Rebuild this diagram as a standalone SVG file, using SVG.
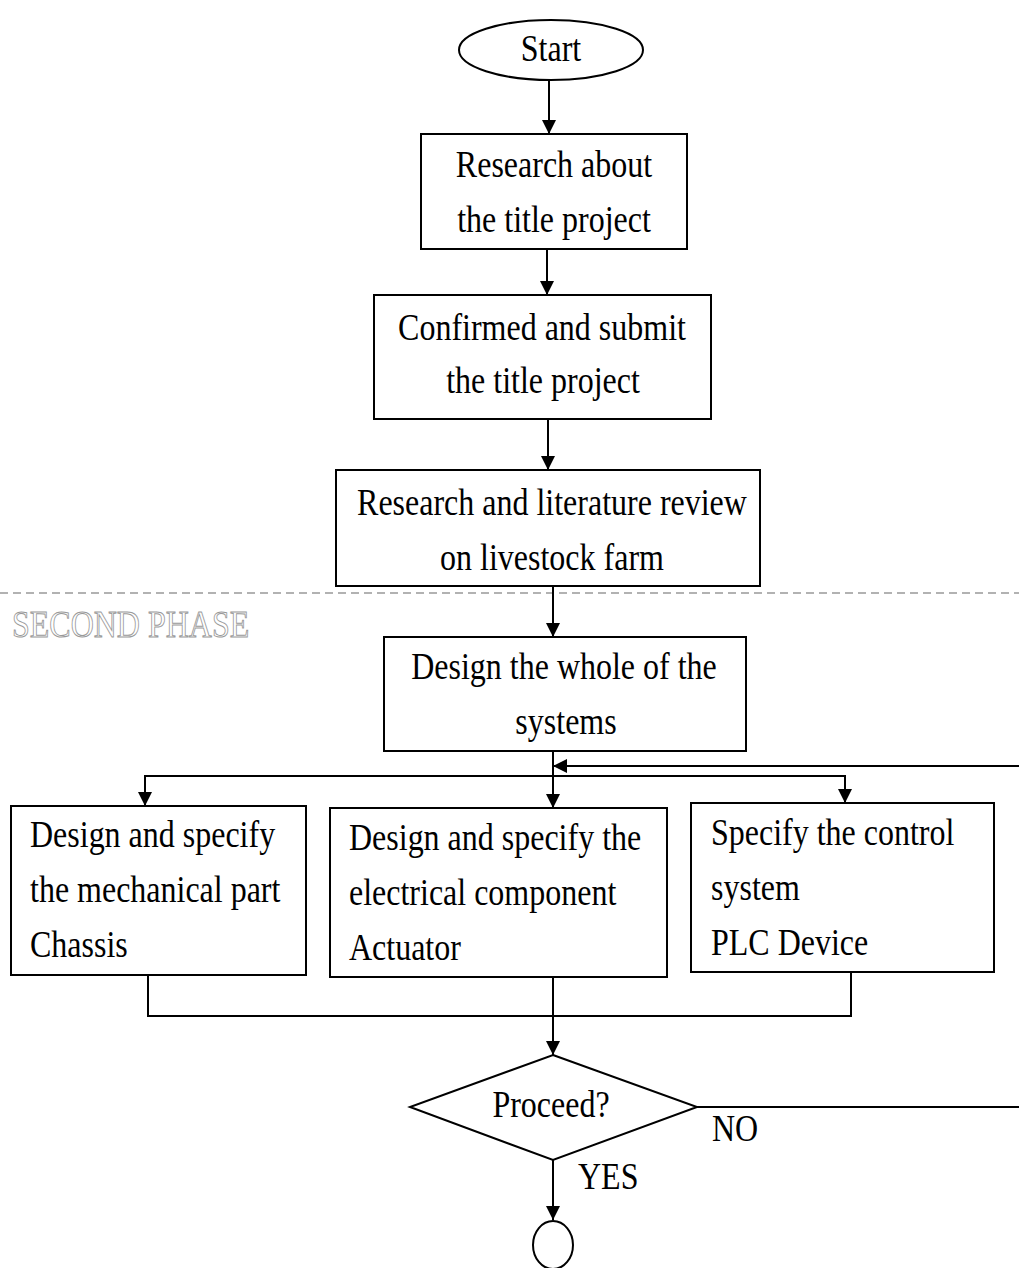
<svg xmlns="http://www.w3.org/2000/svg" width="1019" height="1268" viewBox="0 0 1019 1268">
<style>
.shape{fill:#fff;stroke:#000;stroke-width:2}
.t{font-family:"Liberation Serif","Times New Roman",serif;font-size:32px;fill:#000}
.m{text-anchor:middle}
.c{fill:none;stroke:#000;stroke-width:2}
.phase{font-family:"Liberation Serif","Times New Roman",serif;font-size:32px;fill:none;stroke:#999;stroke-width:0.8}
</style>
<defs>
<marker id="ah" markerUnits="userSpaceOnUse" markerWidth="14" markerHeight="16" viewBox="0 0 14 16" refX="14" refY="8" orient="auto">
<path d="M0,1 L14,8 L0,15 Z" fill="#000"/>
</marker>
</defs>
<rect width="1019" height="1268" fill="#fff"/>

<line x1="0" y1="593" x2="1019" y2="593" stroke="#999" stroke-width="1.5" stroke-dasharray="8 5"/>
<text class="phase" transform="matrix(1 0 0 1.2 12 637)">SECOND PHASE</text>

<g id="connectors">
<line class="c" x1="549" y1="81" x2="549" y2="134" marker-end="url(#ah)"/>
<line class="c" x1="547" y1="249" x2="547" y2="295" marker-end="url(#ah)"/>
<line class="c" x1="548" y1="419" x2="548" y2="470" marker-end="url(#ah)"/>
<line class="c" x1="553" y1="586" x2="553" y2="637" marker-end="url(#ah)"/>
<line class="c" x1="553" y1="751" x2="553" y2="808" marker-end="url(#ah)"/>
<polyline class="c" points="145,790 145,776 845,776 845,790"/>
<line class="c" x1="145" y1="778" x2="145" y2="806" marker-end="url(#ah)"/>
<line class="c" x1="845" y1="778" x2="845" y2="803" marker-end="url(#ah)"/>
<line class="c" x1="1019" y1="766" x2="553" y2="766" marker-end="url(#ah)"/>
<polyline class="c" points="148,975 148,1016 851,1016 851,972"/>
<line class="c" x1="553" y1="977" x2="553" y2="1055" marker-end="url(#ah)"/>
<line class="c" x1="697" y1="1107" x2="1019" y2="1107"/>
<line class="c" x1="553" y1="1160" x2="553" y2="1220" marker-end="url(#ah)"/>
<text class="t" transform="matrix(1 0 0 1.2 712 1141)">NO</text>
<text class="t" transform="matrix(1 0 0 1.2 578 1189)">YES</text>
</g>

<g id="start">
<ellipse class="shape" cx="551" cy="50" rx="92" ry="30"/>
<text class="t m" transform="matrix(1 0 0 1.2 551 61)">Start</text>
</g>

<g id="research">
<rect class="shape" x="421" y="134" width="266" height="115"/>
<text class="t m" transform="matrix(1 0 0 1.2 554 177)">Research about</text>
<text class="t m" transform="matrix(1 0 0 1.2 554 232)">the title project</text>
</g>

<g id="confirm">
<rect class="shape" x="374" y="295" width="337" height="124"/>
<text class="t m" transform="matrix(1 0 0 1.2 542 340)">Confirmed and submit</text>
<text class="t m" transform="matrix(1 0 0 1.2 543 393)">the title project</text>
</g>

<g id="literature">
<rect class="shape" x="336" y="470" width="424" height="116"/>
<text class="t m" transform="matrix(1 0 0 1.2 552 515)">Research and literature review</text>
<text class="t m" transform="matrix(1 0 0 1.2 552 570)">on livestock farm</text>
</g>

<g id="design-whole">
<rect class="shape" x="384" y="637" width="362" height="114"/>
<text class="t m" transform="matrix(1 0 0 1.2 564 679)">Design the whole of the</text>
<text class="t m" transform="matrix(1 0 0 1.2 566 734)">systems</text>
</g>

<g id="mechanical">
<rect class="shape" x="11" y="806" width="295" height="169"/>
<text class="t" transform="matrix(1 0 0 1.2 30 847)">Design and specify</text>
<text class="t" transform="matrix(1 0 0 1.2 30 902)">the mechanical part</text>
<text class="t" transform="matrix(1 0 0 1.2 30 957)">Chassis</text>
</g>

<g id="electrical">
<rect class="shape" x="330" y="808" width="337" height="169"/>
<text class="t" transform="matrix(1 0 0 1.2 349 850)">Design and specify the</text>
<text class="t" transform="matrix(1 0 0 1.2 349 905)">electrical component</text>
<text class="t" transform="matrix(1 0 0 1.2 349 960)">Actuator</text>
</g>

<g id="control">
<rect class="shape" x="691" y="803" width="303" height="169"/>
<text class="t" transform="matrix(1 0 0 1.2 711 845)">Specify the control</text>
<text class="t" transform="matrix(1 0 0 1.2 711 900)">system</text>
<text class="t" transform="matrix(1 0 0 1.2 711 955)">PLC Device</text>
</g>

<g id="proceed">
<polygon class="shape" points="553,1055 697,1107 553,1160 410,1107"/>
<text class="t m" transform="matrix(1 0 0 1.2 551 1117)">Proceed?</text>
</g>

<g id="end">
<ellipse class="shape" cx="553" cy="1245" rx="20" ry="24"/>
</g>
</svg>
